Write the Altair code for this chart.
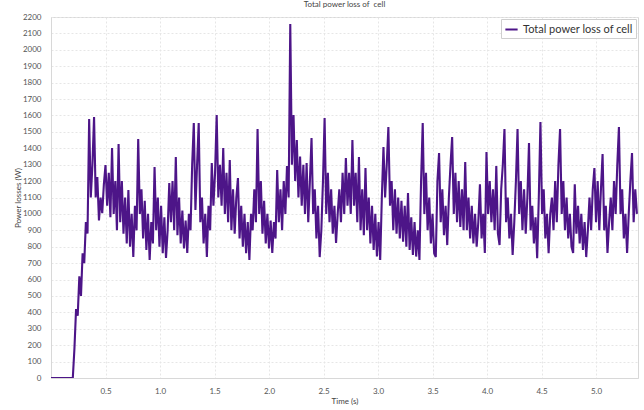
import altair as alt
import pandas as pd

# startup segment (flat zero before switching on)
startup_t = [0.0]
startup_w = [0]

# sampled signal from t0 with step dt
t0 = 0.2
dt = 0.015
loss_w = [
    0, 180, 420, 380, 620, 500, 760, 700, 950, 880,
    1578, 1100, 1300, 1590, 1100, 1225, 960, 1100, 1005, 1180,
    1298, 1050, 1250, 980, 1402, 1000, 1200, 900, 1426, 950,
    1200, 880, 1100, 820, 1146, 800, 1000, 737, 1050, 900,
    1456, 1000, 1150, 850, 1080, 780, 1000, 719, 950, 820,
    1286, 900, 1100, 800, 1050, 760, 980, 731, 900, 1188,
    950, 1200, 900, 1347, 870, 1100, 820, 1020, 790, 960,
    762, 1000, 900, 1300, 1554, 1024, 1300, 1554, 950, 1100,
    820, 1000, 737, 1050, 900, 1310, 1050, 1250, 1603, 1100,
    1300, 1050, 1402, 1000, 1250, 950, 1329, 900, 1150, 880,
    1100, 1219, 850, 1050, 800, 1000, 760, 950, 719, 1000,
    900, 1150, 950, 1517, 1000, 1200, 880, 1080, 820, 1000,
    790, 960, 762, 950, 850, 1268, 950, 1150, 900, 1200,
    1000, 1292, 1100, 2157, 1300, 1603, 1200, 1450, 1100, 1350,
    1050, 1300, 1000, 1310, 950, 1200, 1463, 1000, 1150, 850,
    1050, 737, 900, 1200, 1585, 1000, 1250, 950, 1150, 880,
    1050, 823, 1000, 1150, 950, 1250, 1000, 1341, 1050, 1250,
    1000, 1450, 1050, 1250, 950, 1347, 900, 1150, 870, 1280,
    900, 1100, 820, 1050, 780, 1000, 740, 950, 719, 1100,
    1408, 1100, 1300, 1530, 1050, 1200, 900, 1150, 880, 1100,
    850, 1080, 830, 1050, 800, 1127, 780, 980, 750, 950,
    740, 900, 719, 1200, 1554, 1000, 1250, 900, 1100, 820,
    1000, 760, 737, 1200, 1371, 950, 1150, 870, 1050, 810,
    1100, 1300, 1469, 1000, 1250, 950, 1200, 920, 1150, 900,
    1316, 900, 1100, 850, 1050, 820, 1000, 800, 950, 1180,
    850, 1000, 762, 1377, 1000, 1200, 950, 1150, 900, 1292,
    880, 810, 1150, 1300, 1517, 950, 1100, 850, 1000, 750,
    950, 1200, 1517, 1000, 1200, 900, 1150, 880, 1100, 1432,
    900, 1050, 820, 980, 730, 1100, 1560, 1000, 1150, 850,
    1000, 760, 1000, 1100, 900, 1200, 950, 1300, 1517, 1000,
    1200, 900, 1100, 850, 1000, 800, 762, 1180, 880, 1050,
    820, 1000, 780, 950, 737, 900, 1100, 900, 1150, 1280,
    950, 1200, 900, 1150, 1365, 900, 1050, 762, 950, 1100,
    900, 1200, 1000, 1300, 1530, 1000, 1150, 850, 1000, 762,
    1000, 1200, 1371, 950, 1150, 1000,
]

x_ticks = [0.5, 1.0, 1.5, 2.0, 2.5, 3.0, 3.5, 4.0, 4.5, 5.0]
y_ticks = list(range(0, 2201, 100))
series_name = "Total power loss of cell"
chart_title = "Total power loss of \u00a0cell"

times = startup_t + [round(t0 + i * dt, 4) for i in range(len(loss_w))]
values = startup_w + loss_w
df = pd.DataFrame({"t": times, "w": values, "series": series_name})

FONT = "Lato"

chart = (
    alt.Chart(df)
    .mark_line(strokeWidth=2.1, clip=True, strokeJoin="miter", strokeMiterLimit=2)
    .encode(
        x=alt.X(
            "t:Q",
            scale=alt.Scale(domain=[0, 5.385], nice=False, zero=False),
            axis=alt.Axis(
                title="Time (s)",
                values=x_ticks,
                format=".1f",
                ticks=False,
                labelPadding=9,
                titlePadding=2,
                gridColor="#e6e6e6",
                gridDash=[2, 2],
                domainColor="#d8d8d8",
            ),
        ),
        y=alt.Y(
            "w:Q",
            scale=alt.Scale(domain=[0, 2200], nice=False),
            axis=alt.Axis(
                title="Power losses (W)",
                values=y_ticks,
                format="d",
                ticks=False,
                labelPadding=10,
                titlePadding=0,
                gridColor="#e6e6e6",
                gridDash=[2, 2],
                domainColor="#d8d8d8",
            ),
        ),
        color=alt.Color(
            "series:N",
            scale=alt.Scale(range=["#4d1588"]),
            legend=alt.Legend(
                title=None,
                orient="top-right",
                offset=2,
                symbolType="stroke",
                symbolStrokeWidth=2,
                symbolSize=150,
                labelFontSize=11,
                labelColor="#333333",
                labelFont=FONT,
                strokeColor="#cfcfcf",
                fillColor="#ffffff",
                padding=3,
            ),
        ),
    )
    .properties(
        width=587,
        height=361,
        autosize=alt.AutoSizeParams(type="none"),
        padding={"left": 51, "top": 17, "right": 6, "bottom": 32},
        title=alt.TitleParams(
            chart_title,
            fontSize=8,
            font=FONT,
            fontWeight="normal",
            color="#444444",
            offset=4,
        ),
    )
    .configure_axis(
        labelFont=FONT,
        labelFontSize=8,
        labelColor="#555555",
        titleFont=FONT,
        titleFontSize=8,
        titleFontWeight="normal",
        titleColor="#444444",
    )
    .configure_view(stroke="#d8d8d8")
)

chart.save("out.html", embed_options={"renderer": "svg", "actions": False})
